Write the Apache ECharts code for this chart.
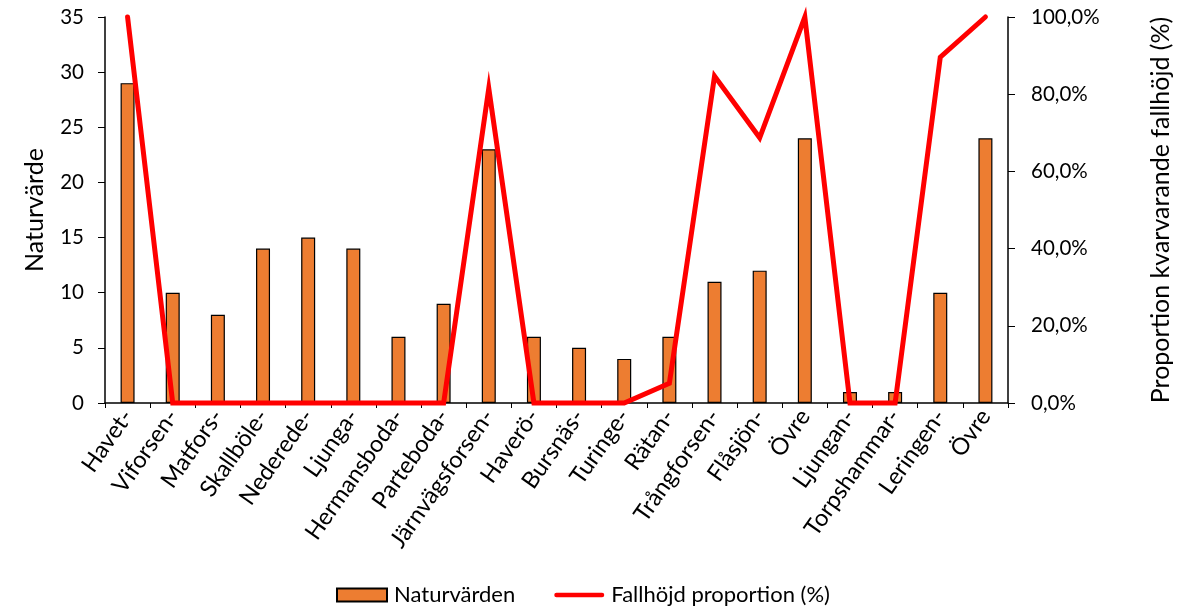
<!DOCTYPE html>
<html>
<head>
<meta charset="utf-8">
<script src="https://cdn.jsdelivr.net/npm/echarts@6/dist/echarts.min.js"></script>
<style>
  html, body { margin: 0; padding: 0; background: #fff; }
  #chart { width: 1183px; height: 613px; }
</style>
</head>
<body>
<div id="chart"></div>
<script>
// Sites along the river, upstream order
const categories = ['Havet-', 'Viforsen-', 'Matfors-', 'Skallböle-', 'Nederede-', 'Ljunga-',
  'Hermansboda-', 'Parteboda-', 'Järnvägsforsen-', 'Haverö-', 'Bursnäs-', 'Turinge-', 'Rätan-',
  'Trångforsen-', 'Flåsjön-', 'Övre', 'Ljungan-', 'Torpshammar-', 'Leringen-', 'Övre'];

// Nature value score per stretch
const naturvarden = [29, 10, 8, 14, 15, 14, 6, 9, 23, 6, 5, 4, 6, 11, 12, 24, 1, 1, 10, 24];

// Share of remaining head (fraction, 0..1)
const fallhojd = [1.0, 0, 0, 0, 0, 0, 0, 0, 0.815, 0, 0, 0, 0.051, 0.847, 0.687, 1.0, 0, 0, 0.896, 1.0];

const leftTicks = { min: 0, max: 35, interval: 5 };
const rightTicks = { min: 0, max: 1, interval: 0.2 };

const FONT = 'Lato, "Open Sans", sans-serif';
const chart = echarts.init(document.getElementById('chart'), null, { renderer: 'canvas' });

chart.setOption({
  animation: false,
  textStyle: { fontFamily: FONT, color: '#000' },
  grid: { left: 105, right: 175, top: 17, bottom: 210, containLabel: false },
  legend: {
    bottom: 2,
    left: 331,
    itemGap: 39,
    itemWidth: 50,
    itemHeight: 13,
    textStyle: { fontFamily: FONT, fontSize: 22, color: '#000', padding: [0, 0, 0, 2] },
    data: [
      { name: 'Naturvärden', icon: 'rect' },
      { name: 'Fallhöjd proportion (%)', icon: 'path://M2,0 L54,0 A2.5,2.5 0 0 1 54,5 L2,5 A2.5,2.5 0 0 1 2,0 Z' }
    ]
  },
  xAxis: {
    type: 'category',
    data: categories,
    boundaryGap: true,
    axisLine: { lineStyle: { color: '#000', width: 1.5 } },
    axisTick: { show: true, alignWithLabel: false, length: 5, lineStyle: { color: '#000' } },
    axisLabel: { rotate: 55, interval: 0, fontSize: 23.5, color: '#000', fontFamily: FONT, margin: 9 }
  },
  yAxis: [
    {
      type: 'value',
      min: leftTicks.min, max: leftTicks.max, interval: leftTicks.interval,
      name: 'Naturvärde',
      nameLocation: 'middle',
      nameGap: 58,
      nameRotate: 90,
      nameTextStyle: { fontSize: 25, color: '#000', fontFamily: FONT },
      axisLine: { show: true, lineStyle: { color: '#000', width: 1.5 } },
      axisTick: { show: true, length: 7, lineStyle: { color: '#000' } },
      axisLabel: { fontSize: 20.5, color: '#000', fontFamily: FONT, margin: 21 },
      splitLine: { show: false }
    },
    {
      type: 'value',
      min: rightTicks.min, max: rightTicks.max, interval: rightTicks.interval,
      name: 'Proportion kvarvarande fallhöjd (%)',
      nameLocation: 'middle',
      nameGap: 140,
      nameRotate: 90,
      nameTextStyle: { fontSize: 25, color: '#000', fontFamily: FONT },
      axisLine: { show: true, lineStyle: { color: '#000', width: 1.5 } },
      axisTick: { show: true, length: 7, lineStyle: { color: '#000' } },
      axisLabel: {
        fontSize: 20.5, color: '#000', fontFamily: FONT, margin: 23,
        formatter: v => (v * 100).toFixed(1).replace('.', ',') + '%'
      },
      splitLine: { show: false }
    }
  ],
  series: [
    {
      name: 'Naturvärden',
      type: 'bar',
      yAxisIndex: 0,
      data: naturvarden,
      barWidth: '31%',
      itemStyle: { color: '#ED7D31', borderColor: '#000', borderWidth: 1.2 }
    },
    {
      name: 'Fallhöjd proportion (%)',
      type: 'line',
      yAxisIndex: 1,
      data: fallhojd,
      symbol: 'none',
      clip: false,
      lineStyle: { color: '#FF0000', width: 5, cap: 'round', join: 'miter' },
      itemStyle: { color: '#FF0000' }
    }
  ]
});
</script>
</body>
</html>
